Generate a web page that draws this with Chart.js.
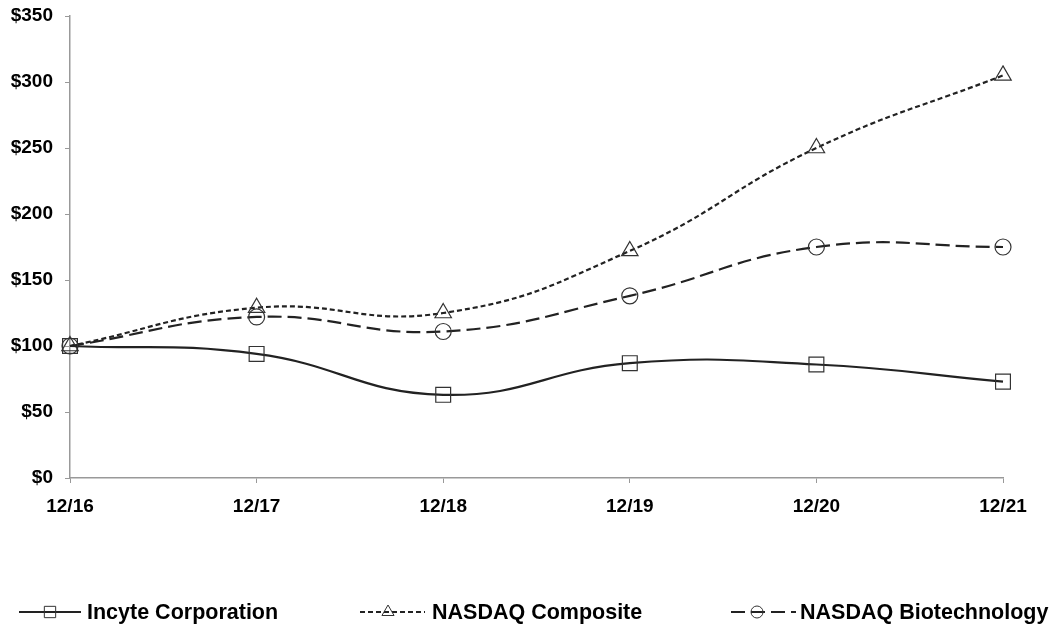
<!DOCTYPE html>
<html>
<head>
<meta charset="utf-8">
<script src="https://cdn.jsdelivr.net/npm/chart.js@4.4.0/dist/chart.umd.min.js"></script>
<style>
  html, body { margin: 0; padding: 0; background: #fff; }
  #wrap { width: 1060px; height: 629px; position: relative; }
</style>
</head>
<body>
<div id="wrap"><canvas id="c" width="1060" height="629"></canvas></div>
<script>
const categories = ["12/16", "12/17", "12/18", "12/19", "12/20", "12/21"];
const incyte = [100, 94, 63, 87, 86, 73];
const nasdaqComposite = [100, 129, 125, 172, 250, 305];
const nasdaqBiotech = [100, 122, 111, 138, 175, 175];
const seriesNames = ["Incyte Corporation", "NASDAQ Composite", "NASDAQ Biotechnology"];
const yTicks = [0, 50, 100, 150, 200, 250, 300, 350];

const FONT = "'Liberation Sans', Arial, sans-serif";
const LINE = "#222222";
const MARK = "#333333";

const legendPlugin = {
  id: 'customLegend',
  afterDraw(chart) {
    const ctx = chart.ctx;
    const y = 612;
    const items = [
      { ds: 0, x0: 19, x1: 81, mx: 50, tx: 87 },
      { ds: 1, x0: 360, x1: 425, mx: 388, tx: 432 },
      { ds: 2, x0: 731, x1: 796, mx: 757, tx: 800 }
    ];
    ctx.save();
    items.forEach(it => {
      const d = chart.data.datasets[it.ds];
      ctx.beginPath();
      ctx.setLineDash(d.borderDash || []);
      ctx.strokeStyle = d.borderColor;
      ctx.lineWidth = d.borderWidth;
      ctx.moveTo(it.x0, y);
      ctx.lineTo(it.x1, y);
      ctx.stroke();
      ctx.setLineDash([]);
      ctx.strokeStyle = MARK;
      ctx.fillStyle = 'rgba(0,0,0,0)';
      ctx.lineWidth = 1;
      Chart.helpers.drawPoint(ctx, {
        pointStyle: d.pointStyle,
        radius: d.legendRadius,
        borderWidth: 1
      }, it.mx, y);
      ctx.fillStyle = "#000";
      ctx.font = "bold 21.5px " + FONT;
      ctx.textBaseline = "middle";
      ctx.textAlign = "left";
      ctx.fillText(d.label, it.tx, y + 1);
    });
    ctx.restore();
  }
};

const ctx = document.getElementById('c').getContext('2d');
new Chart(ctx, {
  type: 'line',
  data: {
    labels: categories,
    datasets: [
      {
        label: seriesNames[0], data: incyte,
        borderColor: LINE, borderWidth: 2.2, borderDash: [],
        pointStyle: 'rect', pointRadius: 10.5, legendRadius: 8,
        pointBorderColor: MARK, pointBackgroundColor: 'rgba(0,0,0,0)', pointBorderWidth: 1.2,
        tension: 0.45, fill: false
      },
      {
        label: seriesNames[1], data: nasdaqComposite,
        borderColor: LINE, borderWidth: 2.2, borderDash: [5, 3],
        pointStyle: 'triangle', pointRadius: 9.5, legendRadius: 7,
        pointBorderColor: MARK, pointBackgroundColor: 'rgba(0,0,0,0)', pointBorderWidth: 1.2,
        tension: 0.45, fill: false
      },
      {
        label: seriesNames[2], data: nasdaqBiotech,
        borderColor: LINE, borderWidth: 2.2, borderDash: [14, 6],
        pointStyle: 'circle', pointRadius: 8, legendRadius: 6,
        pointBorderColor: MARK, pointBackgroundColor: 'rgba(0,0,0,0)', pointBorderWidth: 1.2,
        tension: 0.45, fill: false
      }
    ]
  },
  options: {
    responsive: false,
    animation: false,
    devicePixelRatio: 1,
    layout: { padding: { left: 0, right: 57, top: 16, bottom: 106 } },
    plugins: { legend: { display: false }, tooltip: { enabled: false } },
    scales: {
      x: {
        offset: false,
        grid: { display: true, drawOnChartArea: false, drawTicks: true, tickLength: 5, color: '#999' },
        border: { display: true, color: '#999', width: 1.5 },
        ticks: { color: '#000', font: { family: FONT, size: 19, weight: 'bold' }, padding: 12, maxRotation: 0, autoSkip: false },
        afterFit(scale) { scale.height = 45; scale.paddingLeft = 0; scale.paddingRight = 0; }
      },
      y: {
        min: 0, max: 350,
        afterBuildTicks(scale) { scale.ticks = yTicks.map(v => ({ value: v })); },
        grid: { display: true, drawOnChartArea: false, drawTicks: true, tickLength: 5, color: '#999' },
        border: { display: true, color: '#999', width: 1.5 },
        ticks: { color: '#000', font: { family: FONT, size: 19, weight: 'bold' }, padding: 12,
          callback: v => '$' + v },
        afterFit(scale) { scale.width = 70; scale.paddingTop = 0; scale.paddingBottom = 0; }
      }
    }
  },
  plugins: [legendPlugin]
});
</script>
</body>
</html>
